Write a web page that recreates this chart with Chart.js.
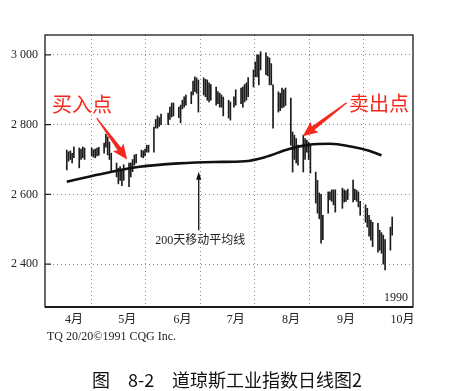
<!DOCTYPE html>
<html><head><meta charset="utf-8">
<script src="https://cdn.jsdelivr.net/npm/chart.js@4/dist/chart.umd.min.js"></script>
<style>html,body{margin:0;padding:0;background:#fff;}canvas{display:block;}</style>
</head><body>
<canvas id="c" width="474" height="391"></canvas>
<script>
// ---- data (Dow Jones Industrial Average, daily high/low, 1990) ----
const tradeDates = [
 '4/2','4/3','4/4','4/5','4/6','4/9','4/10','4/11','4/12','4/16','4/17','4/18','4/19','4/20','4/23','4/24','4/25','4/26','4/27','4/30',
 '5/1','5/2','5/3','5/4','5/7','5/8','5/9','5/10','5/11','5/14','5/15','5/16','5/17','5/18','5/21','5/22','5/23','5/24','5/25','5/29','5/30','5/31',
 '6/1','6/4','6/5','6/6','6/7','6/8','6/11','6/12','6/13','6/14','6/15','6/18','6/19','6/20','6/21','6/22','6/25','6/26','6/27','6/28','6/29',
 '7/2','7/3','7/5','7/6','7/9','7/10','7/11','7/12','7/13','7/16','7/17','7/18','7/19','7/20','7/23','7/24','7/25','7/26','7/27','7/30','7/31',
 '8/1','8/2','8/3','8/6','8/7','8/8','8/9','8/10','8/13','8/14','8/15','8/16','8/17','8/20','8/21','8/22','8/23','8/24','8/27','8/28','8/29','8/30','8/31',
 '9/4','9/5','9/6','9/7','9/10','9/11','9/12','9/13','9/14','9/17','9/18','9/19','9/20','9/21','9/24','9/25','9/26','9/27','9/28',
 '10/1','10/2'];
const highs = [
 2727,2722,2725,2718,2736,2733,2730,2736,2733,2733,2728,2730,2733,2735,2747,2772,2765,2750,2718,2690,
 2675,2680,2672,2685,2690,2690,2700,2713,2715,2727,2725,2730,2741,2741,2793,2815,2825,2820,2830,2833,2850,2862,
 2862,2850,2856,2870,2880,2885,2894,2925,2937,2934,2928,2934,2930,2928,2920,2915,2908,2895,2890,2885,2879,
 2870,2865,2880,2900,2905,2908,2915,2920,2935,2957,2980,3000,3000,3009,3006,2995,2991,2975,2914,2894,2890,
 2905,2900,2905,2876,2779,2770,2760,2741,2770,2760,2756,2750,2741,2664,2640,2604,2600,2540,2607,2607,2613,2613,2613,
 2618,2613,2610,2615,2641,2615,2612,2607,2580,2570,2560,2540,2526,2520,2517,2497,2490,2483,2470,
 2506,2535];
const lows = [
 2670,2695,2700,2690,2705,2676,2700,2705,2700,2710,2707,2705,2710,2712,2718,2735,2713,2700,2665,2650,
 2630,2640,2625,2640,2622,2650,2665,2684,2690,2707,2705,2710,2721,2721,2721,2790,2790,2795,2800,2800,2815,2822,
 2825,2820,2805,2845,2850,2856,2860,2885,2895,2890,2836,2885,2880,2870,2865,2870,2856,2860,2850,2850,2825,
 2819,2813,2850,2856,2860,2850,2865,2870,2880,2908,2937,2937,2914,2957,2943,2940,2914,2914,2790,2836,2840,
 2848,2850,2855,2741,2664,2700,2690,2684,2664,2700,2721,2700,2661,2575,2546,2530,2460,2470,2546,2584,2580,2570,2549,
 2560,2578,2580,2585,2578,2585,2580,2564,2540,2520,2506,2480,2469,2450,2434,2440,2431,2400,2383,
 2440,2483];
const maDates  = ['4/2','4/20','5/13','6/4','6/24','7/11','7/22','8/5','8/16','8/28','9/8','9/19','9/26'];
const maValues = [2636,2657,2679,2689,2693,2695,2706,2730,2742,2745,2738,2725,2712];
const monthTickDates = ['4/1','5/1','6/1','7/1','8/1','9/1','10/1'];
const monthLabels = ['4月','5月','6月','7月','8月','9月','10月'];
const yTicks = [2400, 2600, 2800, 3000];

// ---- helpers ----
function doy(s){ const [m,d]=s.split('/').map(Number); return Math.round((Date.UTC(1990,m-1,d)-Date.UTC(1990,0,0))/86400000); }
const monthTickValues = monthTickDates.map(doy);
const barData = tradeDates.map((d,i)=>({x:doy(d), y:[lows[i], highs[i]]}));
const maData = maDates.map((d,i)=>({x:doy(d), y:maValues[i]}));
const fmt = v => String(v).replace(/\B(?=(\d{3})+$)/,' ');

const RED = '#f5281d';
function redArrow(ctx,x1,y1,x2,y2){
  const ang=Math.atan2(y2-y1,x2-x1), L=Math.hypot(x2-x1,y2-y1);
  ctx.save(); ctx.translate(x1,y1); ctx.rotate(ang);
  ctx.beginPath();
  ctx.moveTo(0,-0.6); ctx.lineTo(L-13,-2.3); ctx.lineTo(L-15,-6.5); ctx.lineTo(L,0);
  ctx.lineTo(L-15,6.5); ctx.lineTo(L-13,2.3); ctx.lineTo(0,0.6); ctx.closePath();
  ctx.fillStyle=RED; ctx.fill(); ctx.restore();
}
function blackArrow(ctx,x1,y1,x2,y2){
  const ang=Math.atan2(y2-y1,x2-x1), L=Math.hypot(x2-x1,y2-y1);
  ctx.save(); ctx.translate(x1,y1); ctx.rotate(ang);
  ctx.strokeStyle='#111'; ctx.lineWidth=1.3;
  ctx.beginPath(); ctx.moveTo(0,0); ctx.lineTo(L-5,0); ctx.stroke();
  ctx.beginPath(); ctx.moveTo(L,0); ctx.lineTo(L-8,-2.6); ctx.lineTo(L-8,2.6); ctx.closePath();
  ctx.fillStyle='#111'; ctx.fill(); ctx.restore();
}

const decor = {
  id:'decor',
  afterDatasetsDraw(chart){
    const {ctx, chartArea:a, scales:{x,y}} = chart;
    const X=v=>x.getPixelForValue(v), Y=v=>y.getPixelForValue(v);
    ctx.save();
    // frame
    ctx.strokeStyle='#1a1a1a'; ctx.lineWidth=1.3;
    ctx.strokeRect(a.left, a.top, a.right-a.left, a.bottom-a.top);
    ctx.lineWidth=2.2; ctx.beginPath(); ctx.moveTo(a.left, a.bottom); ctx.lineTo(a.right, a.bottom); ctx.stroke();
    // inner y tick marks
    ctx.lineWidth=1.2;
    yTicks.forEach(v=>{ ctx.beginPath(); ctx.moveTo(a.left, Y(v)); ctx.lineTo(a.left+6, Y(v)); ctx.stroke(); });
    // buy / sell annotations
    redArrow(ctx, X(108.8), Y(2819), X(125.9), Y(2700));
    redArrow(ctx, X(249.4), Y(2863), X(224.7), Y(2767));
    ctx.fillStyle=RED; ctx.textAlign='center'; ctx.textBaseline='middle';
    ctx.font='20px "Noto Sans CJK SC", sans-serif';
    ctx.fillText('买入点', X(100.6), Y(2859));
    ctx.fillText('卖出点', X(267.6), Y(2862));
    // moving average label
    blackArrow(ctx, X(166.2), Y(2497), X(166.2), Y(2665));
    ctx.fillStyle='#222'; ctx.font='12px "Liberation Serif", "Noto Sans CJK SC", serif';
    ctx.fillText('200天移动平均线', X(167), Y(2468));
    // year
    ctx.textAlign='right'; ctx.font='12px "Liberation Serif", serif';
    ctx.fillText('1990', a.right-5, a.bottom-9);
    // source + caption
    ctx.textAlign='left'; ctx.textBaseline='alphabetic';
    ctx.font='12px "Liberation Serif", serif';
    ctx.fillText('TQ 20/20\u00A91991 CQG Inc.', 47, 340);
    ctx.fillStyle='#111'; ctx.font='18px "Noto Sans CJK SC", sans-serif';
    ctx.fillText('图', 92, 387);
    ctx.fillText('8-2', 128, 387);
    ctx.fillText('道琼斯工业指数日线图2', 172, 387);
    ctx.restore();
  }
};

new Chart(document.getElementById('c'), {
  type:'bar',
  data:{ datasets:[
    { type:'line', data:maData, borderColor:'#111', borderWidth:2.6, pointRadius:0,
      cubicInterpolationMode:'monotone', order:0 },
    { type:'bar', data:barData, backgroundColor:'#1c1c1c', borderWidth:0,
      barThickness:1, order:1 }
  ]},
  options:{
    responsive:false, animation:false, devicePixelRatio:1,
    layout:{ padding:{ left:0, top:35, right:61, bottom:0 } },
    plugins:{ legend:{display:false}, tooltip:{enabled:false} },
    scales:{
      x:{ type:'linear', min:79.75, max:286.7, offset:false,
        afterBuildTicks: s => { s.ticks = monthTickValues.map(v=>({value:v})); },
        afterFit: s => { s.height = 84; },
        grid:{ color:'#8a8a8a', lineWidth:1, drawTicks:false },
        border:{ display:false, dash:[1,3] },
        ticks:{ align:'start', padding:6, color:'#222', maxRotation:0, autoSkip:false,
          font:{ family:'"Liberation Serif", "Noto Sans CJK SC", serif', size:12 },
          callback: v => monthLabels[monthTickValues.indexOf(v)] }
      },
      y:{ min:2277, max:3057,
        afterBuildTicks: s => { s.ticks = yTicks.map(v=>({value:v})); },
        afterFit: s => { s.width = 45; },
        grid:{ color:'#8a8a8a', lineWidth:1, drawTicks:false },
        border:{ display:false, dash:[1,3] },
        ticks:{ padding:7, color:'#222',
          font:{ family:'"Liberation Serif", serif', size:12 },
          callback: v => fmt(v) }
      }
    }
  },
  plugins:[decor]
});
</script>
</body></html>
